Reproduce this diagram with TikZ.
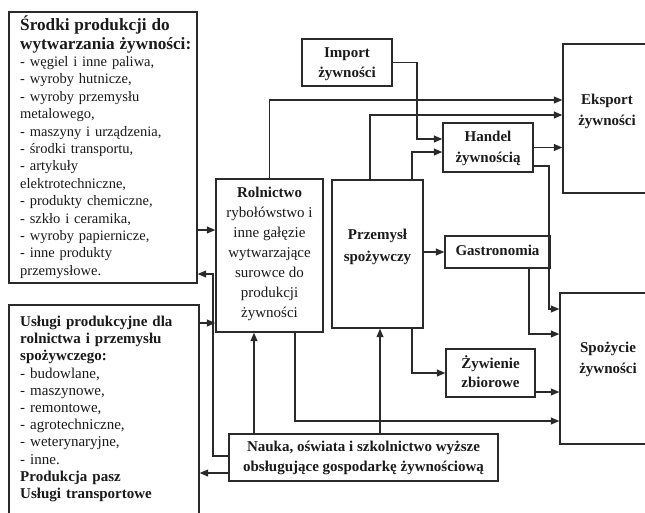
\documentclass[tikz,border=0pt]{standalone}
\usepackage{fontspec}
\setmainfont{Liberation Serif}
\usetikzlibrary{arrows.meta}
\definecolor{ink}{HTML}{1A1A1A}
\definecolor{edge}{HTML}{2A2A2A}
\setlength{\parindent}{0pt}

\tikzset{
  box/.style={draw=edge, line width=1.4pt, fill=white, inner sep=0pt, anchor=center},
  lbl/.style={text=ink, inner sep=0pt, anchor=base, align=center},
  arr/.style={draw=edge, line width=1.2pt, -{Triangle[length=8.5pt,width=7pt]}},
}

\begin{document}
\begin{tikzpicture}[x=1pt, y=-1pt]
\fill[white] (0,0) rectangle (645,512);
\clip (0,0) rectangle (645,512);

% ---------- boxes ----------
\node[box, minimum width=188, minimum height=271] (srodki) at (103,147.5) {};
\node[box, minimum width=190, minimum height=215] (uslugi) at (104,412.5) {};
\node[box, minimum width=107, minimum height=153] (rol)    at (269.5,255.5) {};
\node[box, minimum width=91,  minimum height=148] (prz)    at (377.5,254) {};
\node[box, minimum width=90,  minimum height=47]  (imp)    at (347,62.5) {};
\node[box, minimum width=90,  minimum height=49]  (han)    at (488,147.5) {};
\node[box, minimum width=98,  minimum height=149] (eks)    at (612,118.5) {};
\node[box, minimum width=105, minimum height=32]  (gas)    at (497.5,252) {};
\node[box, minimum width=100, minimum height=151] (spo)    at (610,368.5) {};
\node[box, minimum width=89,  minimum height=48]  (zyw)    at (490.5,373) {};
\node[box, minimum width=269, minimum height=47]  (nau)    at (363.5,457.5) {};

% ---------- texts (left blocks: first baseline; centred blocks: last baseline) ----------
\node[lbl, anchor=base west, align=left, text width=182pt,
      font=\fontsize{14.5}{17.4}\selectfont] (tsrodki) at (20,30.5)
  {{\fontsize{17.2}{18.5}\selectfont\bfseries Środki produkcji do\\wytwarzania żywności:\par}
   - węgiel i inne paliwa,\\
   - wyroby hutnicze,\\
   - wyroby przemysłu\\
   metalowego,\\
   - maszyny i urządzenia,\\
   - środki transportu,\\
   - artykuły\\
   elektrotechniczne,\\
   - produkty chemiczne,\\
   - szkło i ceramika,\\
   - wyroby papiernicze,\\
   - inne produkty\\
   przemysłowe.};

\node[lbl, anchor=base west, align=left, text width=182pt,
      font=\fontsize{15}{17.2}\selectfont] (tuslugi) at (20,326.5)
  {\textbf{Usługi produkcyjne dla}\\
   \textbf{rolnictwa i przemysłu}\\
   \textbf{spożywczego:}\\
   - budowlane,\\
   - maszynowe,\\
   - remontowe,\\
   - agrotechniczne,\\
   - weterynaryjne,\\
   - inne.\\
   \textbf{Produkcja pasz}\\
   \textbf{Usługi transportowe}};

\node[lbl, font=\fontsize{15}{20}\selectfont] (trol) at (269.5,317.5)
  {\textbf{Rolnictwo}\\rybołówstwo i\\inne gałęzie\\wytwarzające\\surowce do\\produkcji\\żywności};
\node[lbl, font=\fontsize{15}{22}\selectfont\bfseries] (tprz) at (377.5,261.5) {Przemysł\\spożywczy};
\node[lbl, font=\fontsize{15}{20}\selectfont\bfseries] (timp) at (347,77.5) {Import\\żywności};
\node[lbl, font=\fontsize{15}{21}\selectfont\bfseries] (than) at (488,162.5) {Handel\\żywnością};
\node[lbl, font=\fontsize{15}{21}\selectfont\bfseries] (teks) at (607,125.5) {Eksport\\żywności};
\node[lbl, font=\fontsize{15}{20}\selectfont\bfseries] (tgas) at (497.5,255.5) {Gastronomia};
\node[lbl, font=\fontsize{15}{21}\selectfont\bfseries] (tspo) at (608,373.5) {Spożycie\\żywności};
\node[lbl, font=\fontsize{15}{19}\selectfont\bfseries] (tzyw) at (490.5,387.5) {Żywienie\\zbiorowe};
\node[lbl, font=\fontsize{15}{20}\selectfont\bfseries] (tnau) at (363.5,471.5)
  {Nauka, oświata i szkolnictwo wyższe\\obsługujące gospodarkę żywnościową};

% ---------- bend points ----------
\coordinate (k1)  at (269.5,100);
\coordinate (k2)  at (370,115);
\coordinate (k3)  at (417,139);
\coordinate (k4)  at (412,152);
\coordinate (k6)  at (549,166);
\coordinate (k6b) at (549,309);
\coordinate (k8)  at (529,334);
\coordinate (k10) at (535,392);
\coordinate (k11) at (295,421);
\coordinate (k12) at (254,0);
\coordinate (k13) at (380,0);
\coordinate (k14) at (213,456);
\coordinate (k14b) at (213,274);
\coordinate (k15) at (0,473);
\coordinate (k16) at (0,230);
\coordinate (k17) at (0,323);

% ---------- connectors ----------
\draw[arr] (rol.north) -- (k1) -- (k1 -| eks.west);
\draw[arr] (prz.north -| k2) -- (k2) -- (k2 -| eks.west);
\draw[arr] (imp.east) -| (k3) -- (k3 -| han.west);
\draw[arr] (prz.north -| k4) -- (k4) -- (k4 -| han.west);
\draw[arr] (han.east) -- (han.east -| eks.west);
\draw[arr] (han.east |- k6) -- (k6) -- (k6b) -- (k6b -| spo.west);
\draw[arr] (prz.east |- gas.west) -- (gas.west);
\draw[arr] (gas.south -| k8) -- (k8) -- (k8 -| spo.west);
\draw[arr] (prz.south -| k4) |- (zyw.west);
\draw[arr] (zyw.east |- k10) -- (k10 -| spo.west);
\draw[arr] (rol.south -| k11) -- (k11) -- (k11 -| spo.west);
\draw[arr] (nau.north -| k12) -- (rol.south -| k12);
\draw[arr] (nau.north -| k13) -- (prz.south -| k13);
\draw[arr] (nau.west |- k14) -- (k14) -- (k14b) -- (k14b -| srodki.east);
\draw[arr] (nau.west |- k15) -- (uslugi.east |- k15);
\draw[arr] (srodki.east |- k16) -- (rol.west |- k16);
\draw[arr] (uslugi.east |- k17) -- (rol.west |- k17);
\end{tikzpicture}
\end{document}
